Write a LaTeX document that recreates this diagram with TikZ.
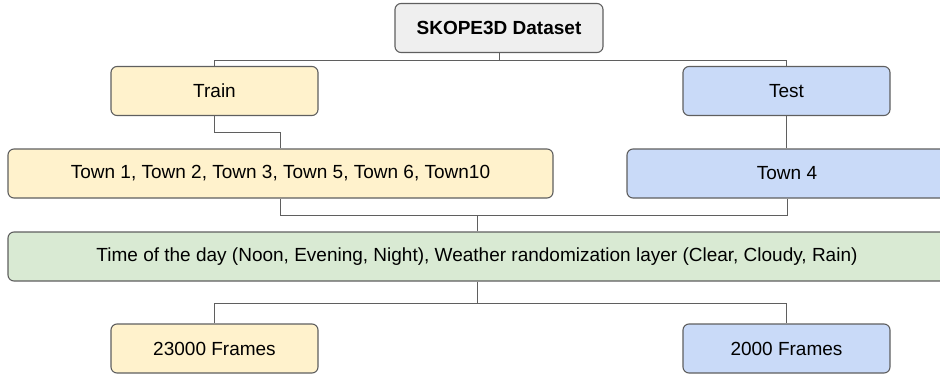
\documentclass[tikz,border=0pt]{standalone}
\usepackage{fontspec}
\setmainfont{Liberation Sans}
\usetikzlibrary{positioning}

\definecolor{rootfill}{HTML}{EFEFEF}
\definecolor{trainfill}{HTML}{FFF2CC}
\definecolor{testfill}{HTML}{C9DAF8}
\definecolor{envfill}{HTML}{D9EAD3}
\definecolor{linegray}{HTML}{5F5F5F}

\tikzset{
  box/.style={draw=linegray, line width=1.1pt, rounded corners=6pt, minimum height=49pt,
    inner sep=0pt, font=\fontsize{19}{22}\selectfont},
  link/.style={draw=linegray, line width=1pt}
}

\begin{document}
\begin{tikzpicture}[x=1pt,y=-1pt]
  \useasboundingbox (0,0) rectangle (940,375);
  % boxes
  \node[box, fill=rootfill, minimum width=208pt] (root) at (499,28) {\bfseries SKOPE3D Dataset};
  \node[box, fill=trainfill, minimum width=207pt] (train) at (214.5,91) {Train};
  \node[box, fill=testfill, minimum width=207pt] (test) at (786.5,91) {Test};
  \node[box, fill=trainfill, minimum width=545pt] (towns) at (280.5,173.5) {Town 1, Town 2, Town 3, Town 5, Town 6, Town10};
  \node[box, fill=testfill, minimum width=320pt] (town4) at (787,173.5) {Town 4};
  \node[box, fill=envfill, minimum width=938pt] (env) at (477,256.5) {Time of the day (Noon, Evening, Night), Weather randomization layer (Clear, Cloudy, Rain)};
  \node[box, fill=trainfill, minimum width=207pt] (frames23) at (214.5,348.5) {23000 Frames};
  \node[box, fill=testfill, minimum width=207pt] (frames2) at (786.5,348.5) {2000 Frames};
  % links
  \draw[link] (root.south) -- ++(0,7) coordinate (split);
  \draw[link] (train.north) |- (split) -| (test.north);
  \draw[link] (train.south) -- ++(0,16) -| (towns.north);
  \draw[link] (test.south) -- (test.south |- town4.north);
  \draw[link] (towns.south) -- ++(0,16.5) coordinate (merge) -| (town4.south);
  \draw[link] (env.north) -- (env.north |- merge);
  \draw[link] (env.south) -- ++(0,22) coordinate (fork);
  \draw[link] (frames23.north) |- (fork) -| (frames2.north);
\end{tikzpicture}
\end{document}
